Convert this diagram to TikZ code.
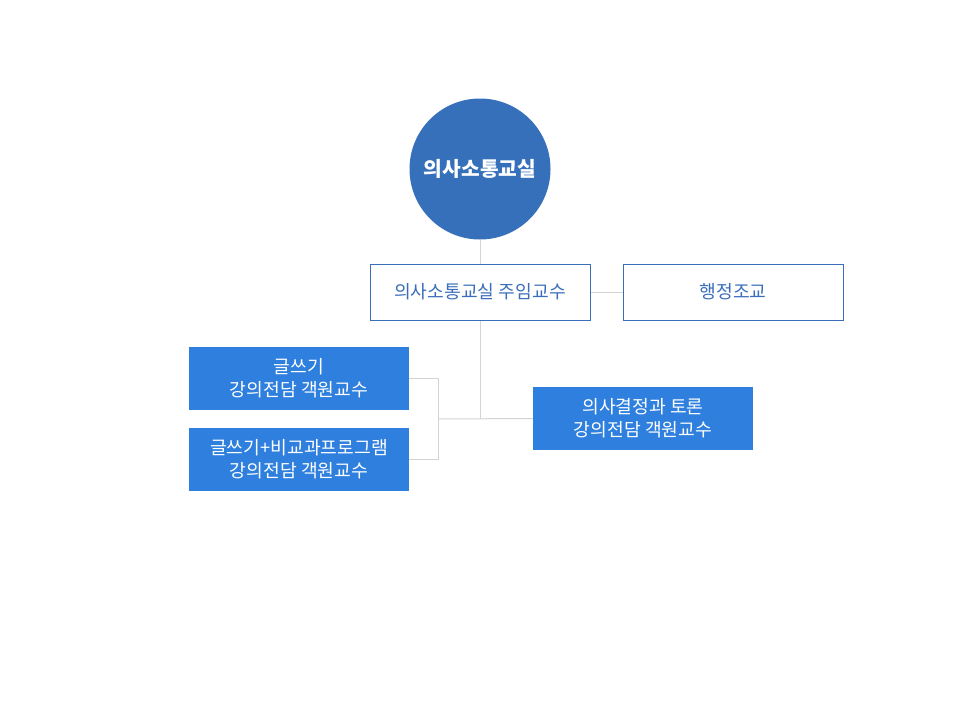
\documentclass[tikz,border=0pt]{standalone}
\usepackage{fontspec}
\newfontfamily\cjk{Noto Sans CJK KR}
\definecolor{circ}{HTML}{366FBA}
\definecolor{edge}{HTML}{3A6EBA}
\definecolor{fillb}{HTML}{2F80DE}
\definecolor{conn}{HTML}{D3D3D3}
\begin{document}
\begin{tikzpicture}[x=1pt,y=-1pt,
  outline/.style={draw=edge,line width=1pt,fill=white,minimum width=220pt,minimum height=56pt,inner sep=0pt,font=\cjk\fontsize{18.2}{22}\selectfont,text=edge},
  filled/.style={fill=fillb,minimum width=220pt,minimum height=63pt,inner sep=0pt,align=center,font=\cjk\fontsize{18.2}{23}\selectfont,text=white},
  link/.style={draw=conn,line width=1pt}]
\useasboundingbox (0,0) rectangle (960,720);
\node[circle,fill=circ,minimum size=141pt,inner sep=0pt,text=white,font=\cjk\bfseries\fontsize{20.3}{22}\selectfont] (top) at (480,169) {의사소통교실};
\node[outline] (head) at (480,292) {의사소통교실 주임교수};
\node[outline] (admin) at (733,292) {행정조교};
\node[filled] (wa) at (299,378.5) {글쓰기\\강의전담 객원교수};
\node[filled] (wb) at (299,459.5) {글쓰기+비교과프로그램\\강의전담 객원교수};
\node[filled] (dc) at (643,418.5) {의사결정과 토론\\강의전담 객원교수};
\coordinate (j) at (480,419);
\coordinate (b) at (438,419);
\draw[link] (top.south) -- (head.north);
\draw[link] (head.east) -- (admin.west);
\draw[link] (head.south) -- (j);
\draw[link] (b) -- (dc.west);
\draw[link] (wa.east) -| (b);
\draw[link] (wb.east) -| (b);
\end{tikzpicture}
\end{document}
